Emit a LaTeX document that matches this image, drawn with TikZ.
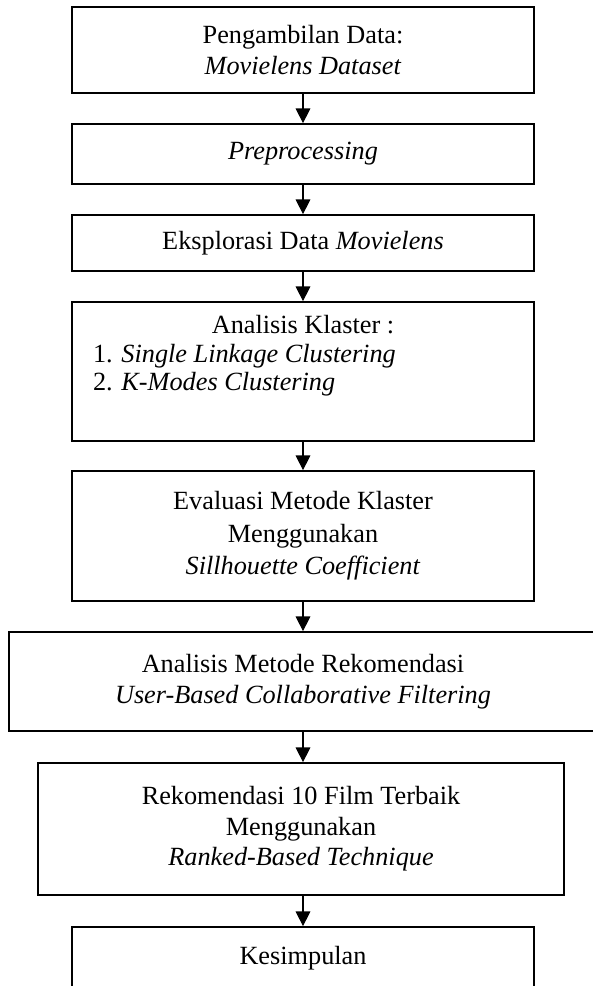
\documentclass[tikz,border=0pt]{standalone}
\usepackage{fontspec}
\setmainfont{Liberation Serif}
\usetikzlibrary{arrows.meta}
\begin{document}
\begin{tikzpicture}[x=0.75pt,y=-0.75pt,
  frame/.style={draw, line width=1.3pt, inner sep=0pt,
    font=\fontsize{19.7pt}{22.9pt}\selectfont},
  box/.style={frame, align=center},
  flow/.style={line width=0.8pt, -{Triangle[length=11pt,width=11pt]}}]
\useasboundingbox (0,0) rectangle (593,986);
\clip (0,0) rectangle (593,986);
\node[box, minimum width=346.5pt, minimum height=64.5pt] (b1) at (303,50)
  {Pengambilan Data:\\\textit{Movielens Dataset}};
\node[box, minimum width=346.5pt, minimum height=45pt] (b2) at (303,154)
  {\textit{Preprocessing}};
\node[box, minimum width=346.5pt, minimum height=42pt] (b3) at (303,243)
  {Eksplorasi Data \textit{Movielens}};
\node[frame, minimum width=346.5pt, minimum height=104.25pt,
  font=\fontsize{19.7pt}{21.4pt}\selectfont] (b4) at (303,371.5)
  {\parbox{315pt}{\centering Analisis Klaster :\par
   \raggedright 1. \textit{Single Linkage Clustering}\\
   2. \textit{K-Modes Clustering}\\
   \strut}};
\node[box, minimum width=346.5pt, minimum height=97.5pt,
  font=\fontsize{19.7pt}{24.4pt}\selectfont] (b5) at (303,536)
  {Evaluasi Metode Klaster\\Menggunakan\\\textit{Sillhouette Coefficient}};
\node[box, minimum width=441pt, minimum height=74.25pt] (b6) at (303,681.5)
  {Analisis Metode Rekomendasi\\\textit{User-Based Collaborative Filtering}};
\node[box, minimum width=394.5pt, minimum height=99pt] (b7) at (301,829)
  {Rekomendasi 10 Film Terbaik\\Menggunakan\\\textit{Ranked-Based Technique}};
\node[box, minimum width=346.5pt, minimum height=47.25pt] (b8) at (303,958.5)
  {Kesimpulan};
\draw[flow] (b1.south) -- (b2.north);
\draw[flow] (b2.south) -- (b3.north);
\draw[flow] (b3.south) -- (b4.north);
\draw[flow] (b4.south) -- (b5.north);
\draw[flow] (b5.south) -- (b6.north);
\draw[flow] (b6.south) -- (b6.south |- b7.north);
\draw[flow] (b7.south -| b6.south) -- (b8.north);
\end{tikzpicture}
\end{document}
